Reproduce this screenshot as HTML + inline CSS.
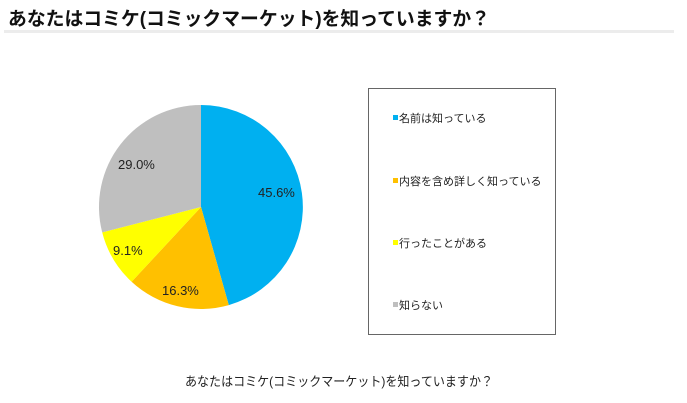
<!DOCTYPE html>
<html><head><meta charset="utf-8"><style>
html,body{margin:0;padding:0;background:#fff;}
</style></head><body>
<svg width="687" height="403" viewBox="0 0 687 403" xmlns="http://www.w3.org/2000/svg" style="display:block;font-family:'Liberation Sans','Noto Sans CJK JP',sans-serif;">
<text x="8" y="25" font-size="19" font-weight="bold" fill="#111" textLength="482" lengthAdjust="spacingAndGlyphs">あなたはコミケ(コミックマーケット)を知っていますか？</text>
<rect x="4" y="30" width="670" height="3" fill="#ececec"/>
<path d="M201,207 L201,105 A102,102 0 0 1 228.8,305.1 Z" fill="#00B0F0"/>
<path d="M201,207 L228.8,305.1 A102,102 0 0 1 131.6,281.8 Z" fill="#FFC000"/>
<path d="M201,207 L131.6,281.8 A102,102 0 0 1 102.2,232.4 Z" fill="#FFFF00"/>
<path d="M201,207 L102.2,232.4 A102,102 0 0 1 201,105 Z" fill="#BFBFBF"/>
<g font-size="13" fill="#222">
<text x="258" y="197">45.6%</text>
<text x="162" y="295">16.3%</text>
<text x="113" y="255">9.1%</text>
<text x="118" y="169">29.0%</text>
</g>
<rect x="368.5" y="88.5" width="187" height="246" fill="#fff" stroke="#666" stroke-width="1"/>
<g font-size="11" fill="#222">
<rect x="393" y="115" width="5" height="5" fill="#00B0F0"/>
<text x="399" y="122">名前は知っている</text>
<rect x="393" y="178" width="5" height="5" fill="#FFC000"/>
<text x="399" y="185">内容を含め詳しく知っている</text>
<rect x="393" y="240" width="5" height="5" fill="#FFFF00"/>
<text x="399" y="247">行ったことがある</text>
<rect x="393" y="302" width="5" height="5" fill="#BFBFBF"/>
<text x="399" y="309">知らない</text>
</g>
<text x="185" y="386" font-size="13" fill="#222" textLength="308" lengthAdjust="spacingAndGlyphs">あなたはコミケ(コミックマーケット)を知っていますか？</text>
</svg>
</body></html>
